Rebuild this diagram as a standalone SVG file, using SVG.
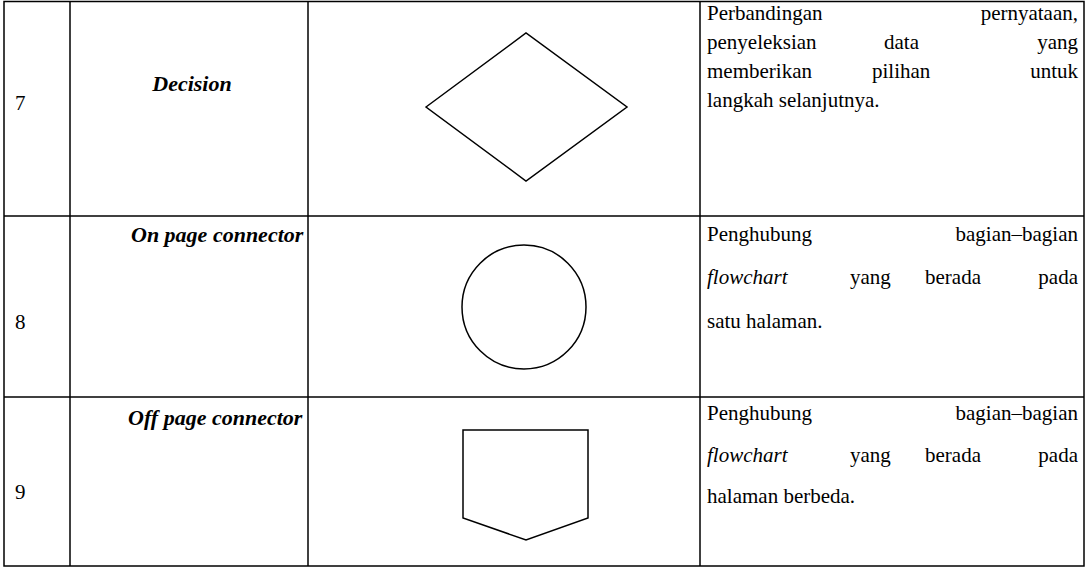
<svg xmlns="http://www.w3.org/2000/svg" width="1089" height="568" viewBox="0 0 1089 568">
<style>
.ln{stroke:#000;stroke-width:1.5;fill:none}
.sh{stroke:#000;stroke-width:1.5;fill:#fff}
.t{font-family:"Liberation Serif","Times New Roman",serif;font-size:21px;fill:#000}
.b{font-weight:bold;font-style:italic;font-size:22px}
.i{font-style:italic}
.e{text-anchor:end}
.m{text-anchor:middle}
</style>
<rect width="1089" height="568" fill="#fff"/>
<g id="grid">
<rect class="ln" x="4" y="1.5" width="1080" height="564.5"/>
<line class="ln" x1="70" y1="1.5" x2="70" y2="566"/>
<line class="ln" x1="308" y1="1.5" x2="308" y2="566"/>
<line class="ln" x1="700" y1="1.5" x2="700" y2="566"/>
<line class="ln" x1="4" y1="216" x2="1084" y2="216"/>
<line class="ln" x1="4" y1="397" x2="1084" y2="397"/>
</g>
<g id="row7">
<text class="t" x="15" y="110">7</text>
<text class="t b m" x="192" y="91">Decision</text>
<polygon id="decision" class="sh" points="426,107 526,33 627,107 526,181"/>
<text class="t" x="707" y="20">Perbandingan</text>
<text class="t e" x="1078" y="20">pernyataan,</text>
<text class="t" x="707" y="49">penyeleksian</text>
<text class="t" x="884" y="49">data</text>
<text class="t e" x="1078" y="49">yang</text>
<text class="t" x="707" y="78">memberikan</text>
<text class="t" x="872" y="78">pilihan</text>
<text class="t e" x="1078" y="78">untuk</text>
<text class="t" x="707" y="107">langkah selanjutnya.</text>
</g>
<g id="row8">
<text class="t" x="15" y="329">8</text>
<text class="t b" x="131" y="242">On page connector</text>
<circle id="connector" class="sh" cx="524" cy="307" r="62"/>
<text class="t" x="707" y="241">Penghubung</text>
<text class="t e" x="1078" y="241">bagian–bagian</text>
<text class="t i" x="707" y="284">flowchart</text>
<text class="t" x="850" y="284">yang</text>
<text class="t" x="925" y="284">berada</text>
<text class="t e" x="1078" y="284">pada</text>
<text class="t" x="707" y="328">satu halaman.</text>
</g>
<g id="row9">
<text class="t" x="15" y="499">9</text>
<text class="t b" x="128" y="425">Off page connector</text>
<polygon id="offpage" class="sh" points="463,430 588,430 588,518 526,540 463,518"/>
<text class="t" x="707" y="420">Penghubung</text>
<text class="t e" x="1078" y="420">bagian–bagian</text>
<text class="t i" x="707" y="462">flowchart</text>
<text class="t" x="850" y="462">yang</text>
<text class="t" x="925" y="462">berada</text>
<text class="t e" x="1078" y="462">pada</text>
<text class="t" x="707" y="503">halaman berbeda.</text>
</g>
</svg>
